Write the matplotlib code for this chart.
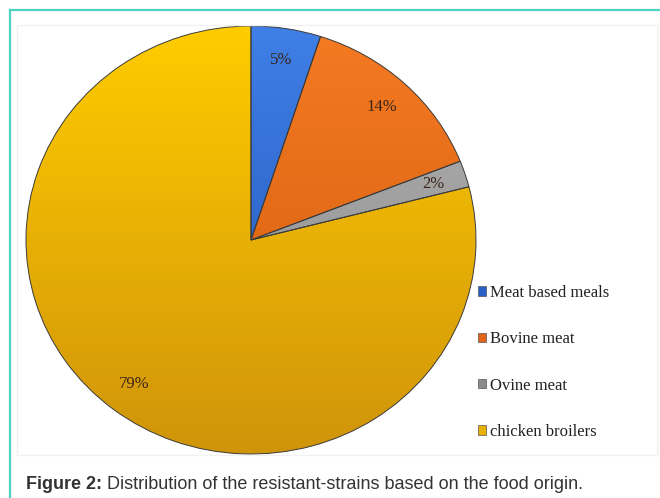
import numpy as np
import matplotlib
matplotlib.use("Agg")
import matplotlib.pyplot as plt
from matplotlib.colors import LinearSegmentedColormap
from matplotlib.patches import Patch, Rectangle
from matplotlib.lines import Line2D

# data
categories = ["Meat based meals", "Bovine meat", "Ovine meat", "chicken broilers"]
shares = [5, 14, 2, 79]
# (light, dark) shade for each slice
shades = [("#3f7fe6", "#2152b4"),
          ("#f57a22", "#cf5a0c"),
          ("#b4b4b4", "#858585"),
          ("#ffcc00", "#d0940a")]
legend_colors = ["#2b5fc8", "#e0641a", "#8c8c8c", "#e8b000"]

caption_bold = "Figure 2:"
caption_rest = " Distribution of the resistant-strains based on the food origin."

W, H = 660, 498
fig = plt.figure(figsize=(W / 100, H / 100), dpi=100)
fig.patch.set_facecolor("white")

# faint chart-area frame
fig.patches.append(Rectangle((17 / W, 1 - 455 / H), 640 / W, 430 / H,
                             transform=fig.transFigure, fill=False,
                             edgecolor="#f1f1f1", lw=1))

# teal page border (top and left)
fig.lines.append(Line2D([9.5 / W, 1], [1 - 10.5 / H, 1 - 10.5 / H],
                        transform=fig.transFigure, color="#4ed3c2", lw=1.6))
fig.lines.append(Line2D([9.5 / W, 9.5 / W], [0, 1 - 10.5 / H],
                        transform=fig.transFigure, color="#4ed3c2", lw=1.6))

# pie is slightly squashed vertically, so use a non-equal axes box
cx, cy, rx, ry = 251, 240, 225, 214
ax = fig.add_axes([(cx - rx) / W, (H - cy - ry) / H, 2 * rx / W, 2 * ry / H])

wedges, texts, autotexts = ax.pie(
    shares, startangle=90, counterclock=False, radius=1,
    colors=[s[0] for s in shades], autopct="%.0f%%", pctdistance=0.85,
    wedgeprops=dict(edgecolor="#3a3a3a", linewidth=0.7),
    textprops=dict(family="Liberation Serif", fontsize=12, color="#3a2418"))

grad = np.linspace(0, 1, 256).reshape(-1, 1)
for w, (light, dark) in zip(wedges, shades):
    cmap = LinearSegmentedColormap.from_list("g", [dark, light])
    im = ax.imshow(grad, extent=(-1, 1, -1, 1), origin="lower", cmap=cmap,
                   aspect="auto", zorder=0.5)
    im.set_clip_path(w)
    w.set_facecolor("none")
    w.set_zorder(1)
for t in autotexts:
    t.set_zorder(3)

ax.set_xlim(-1.0, 1.0)
ax.set_ylim(-1.0, 1.0)
ax.set_aspect("auto")
ax.axis("off")

handles = [Patch(facecolor=c, edgecolor="#555555", lw=0.5) for c in legend_colors]
fig.legend(handles, categories, loc="upper left",
           bbox_to_anchor=(478 / W, 1 - 285 / H), frameon=False,
           prop=dict(family="Liberation Serif", size=12),
           handlelength=0.5, handleheight=0.5, handletextpad=0.2,
           labelspacing=1.82, borderpad=0, borderaxespad=0,
           labelcolor="#222222")

# caption: bold lead-in followed by regular text
t1 = fig.text(26 / W, 1 - 484 / H, caption_bold, fontweight="bold",
              family="Liberation Sans", fontsize=13, color="#333333",
              va="center")
fig.canvas.draw()
bb = t1.get_window_extent()
fig.text(bb.x1 / W, 1 - 484 / H, caption_rest, family="Liberation Sans",
         fontsize=13, color="#333333", va="center")

fig.savefig("out.png", dpi=100)
